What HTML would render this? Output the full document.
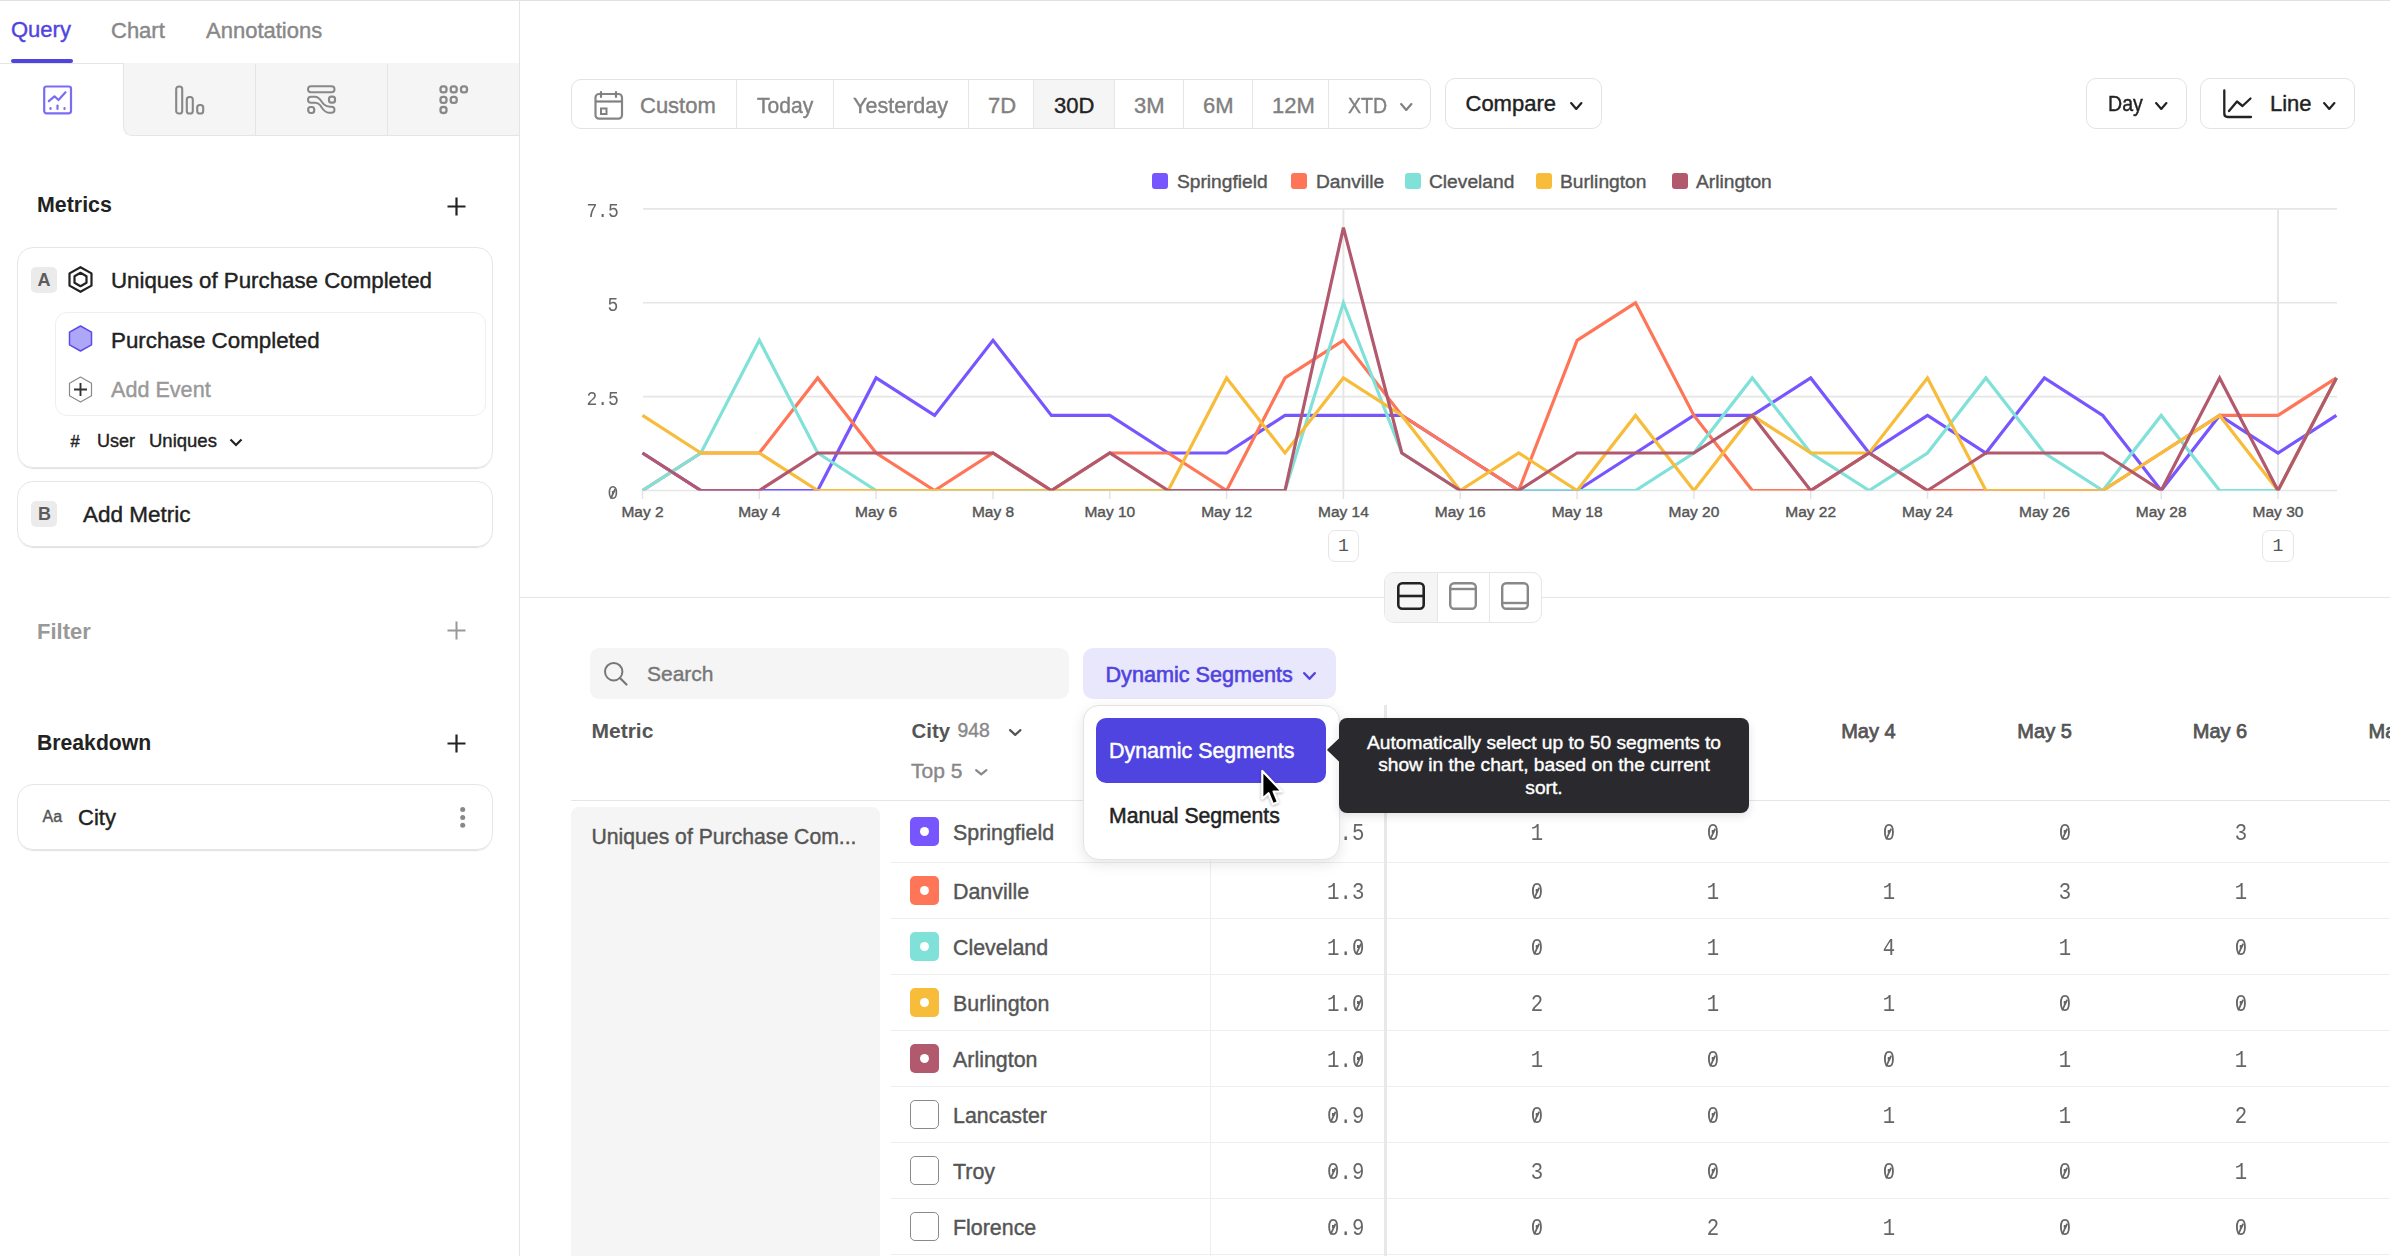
<!DOCTYPE html>
<html><head><meta charset="utf-8">
<style>
*{box-sizing:border-box;margin:0;padding:0}
html,body{width:2390px;height:1256px;overflow:hidden;background:#fff;font-family:"Liberation Sans",sans-serif;color:#222}
.a{position:absolute}
.t{position:absolute;line-height:1;white-space:nowrap;-webkit-text-stroke-width:0.4px}
.t[style*="bold"],.t[style*="Mono"]{-webkit-text-stroke-width:0}
.mono{font-family:"Liberation Mono",monospace}
svg{position:absolute;overflow:visible}
.z{position:relative;display:inline-block}
.z::after{content:"";position:absolute;left:10%;right:10%;top:50%;height:1.5px;margin-top:-0.75px;background:currentColor;transform:rotate(-62deg) scaleX(1.1)}
</style></head><body>
<!-- top border -->
<div class="a" style="left:0;top:0;width:2390px;height:1px;background:#e0e0e0"></div>
<!-- LEFT PANEL -->
<div class="a" style="left:519px;top:0;width:1px;height:1256px;background:#e5e5e5"></div>
<div class="t" style="left:11px;top:18.8px;font-size:22px;color:#4f44e0">Query</div>
<div class="t" style="left:111px;top:19.5px;font-size:22px;color:#888">Chart</div>
<div class="t" style="left:206px;top:19.5px;font-size:22px;color:#888">Annotations</div>
<div class="a" style="left:11px;top:59px;width:62px;height:4px;border-radius:2px;background:#4f44e0"></div>
<div class="a" style="left:0;top:63px;width:519px;height:1px;background:#e5e5e5"></div>
<!-- icon tabs -->
<div class="a" style="left:123px;top:63px;width:396px;height:73px;background:#f5f5f5;border-left:1px solid #e5e5e5;border-bottom:1px solid #e5e5e5;border-bottom-left-radius:9px"></div>
<div class="a" style="left:255px;top:64px;width:1px;height:71px;background:#e5e5e5"></div>
<div class="a" style="left:387px;top:64px;width:1px;height:71px;background:#e5e5e5"></div>

<!-- tab icons -->
<svg style="left:43px;top:85px" width="30" height="30" viewBox="0 0 30 30"><rect x="1.2" y="1.5" width="26.8" height="26.8" rx="2.2" fill="none" stroke="#7b6cf6" stroke-width="2.2"/><polyline points="5.8,16.2 11.5,11.3 15.5,15 22.5,7.3" fill="none" stroke="#7b6cf6" stroke-width="2.2" stroke-linecap="round" stroke-linejoin="round"/><line x1="7.5" y1="23" x2="7.5" y2="24" stroke="#7b6cf6" stroke-width="2.2" stroke-linecap="round"/><line x1="14.5" y1="20.5" x2="14.5" y2="24" stroke="#7b6cf6" stroke-width="2.2" stroke-linecap="round"/><line x1="21.5" y1="23" x2="21.5" y2="24" stroke="#7b6cf6" stroke-width="2.2" stroke-linecap="round"/></svg>
<svg style="left:175px;top:85px" width="30" height="30" viewBox="0 0 30 30"><rect x="1.2" y="1.5" width="6" height="27" rx="2.6" fill="none" stroke="#888" stroke-width="2.1"/><rect x="11.8" y="12" width="6" height="16.5" rx="2.6" fill="none" stroke="#888" stroke-width="2.1"/><rect x="22.2" y="20" width="6" height="8.5" rx="2.6" fill="none" stroke="#888" stroke-width="2.1"/></svg>
<svg style="left:307px;top:85px" width="30" height="30" viewBox="0 0 30 30"><rect x="1" y="1.2" width="26.5" height="6" rx="3" fill="none" stroke="#888" stroke-width="2"/><path d="M4,11.7 H8 C13,11.7 14,17 17,19.5 C18.5,20.8 20,21.7 23,21.7 H24.5 A3,3 0 0 1 24.5,27.7 H22 C17,27.7 15.5,23.5 13,20 C11.5,18 10,17.7 8,17.7 H4 A3,3 0 0 1 4,11.7 Z" fill="none" stroke="#888" stroke-width="2" stroke-linejoin="round"/><rect x="22" y="11.7" width="6" height="6" rx="2.4" fill="none" stroke="#888" stroke-width="2.2"/><rect x="1.2" y="22" width="6" height="6" rx="2.4" fill="none" stroke="#888" stroke-width="2.2"/></svg>
<svg style="left:439px;top:85px" width="30" height="30" viewBox="0 0 30 30"><g fill="none" stroke="#888" stroke-width="2.3"><rect x="1.5" y="1.2999999999999998" width="6" height="6" rx="2.4"/><rect x="11.7" y="1.2999999999999998" width="6" height="6" rx="2.4"/><rect x="22" y="1.2999999999999998" width="6" height="6" rx="2.4"/><rect x="1.5" y="11.8" width="6" height="6" rx="2.4"/><rect x="11.7" y="11.8" width="6" height="6" rx="2.4"/><rect x="1.5" y="22" width="6" height="6" rx="2.4"/></g></svg>

<!-- Metrics -->
<div class="t" style="left:37px;top:194.5px;font-size:21.4px;font-weight:bold;color:#222">Metrics</div>
<svg style="left:447px;top:197px" width="19" height="19" viewBox="0 0 19 19"><path d="M9.5,0.5V18.5M0.5,9.5H18.5" stroke="#222" stroke-width="2.2"/></svg>

<!-- Card A -->
<div class="a" style="left:17px;top:247px;width:476px;height:221px;border:1px solid #e6e6e6;border-radius:16px;box-shadow:0 2px 1px -1px #e0e0e0"></div>
<div class="a" style="left:31px;top:267px;width:26px;height:26px;border-radius:5px;background:#ebebeb"></div>
<div class="t" style="left:37.5px;top:270.5px;font-size:18px;font-weight:bold;color:#5c5c5c">A</div>
<svg style="left:68px;top:266px" width="26" height="27" viewBox="0 0 26 27"><path d="M12.5,1.2 L23.5,7.4 V19.6 L12.5,25.8 L1.5,19.6 V7.4 Z" fill="none" stroke="#222" stroke-width="2.2" stroke-linejoin="round"/><path d="M12.5,6.8 L18.5,10.2 V16.8 L12.5,20.2 L6.5,16.8 V10.2 Z" fill="none" stroke="#222" stroke-width="2.2" stroke-linejoin="round"/></svg>
<div class="t" style="left:111px;top:269.5px;font-size:22.3px;color:#222">Uniques of Purchase Completed</div>
<div class="a" style="left:55px;top:312px;width:431px;height:104px;border:1px solid #efefef;border-radius:12px"></div>
<svg style="left:68px;top:325px" width="26" height="27" viewBox="0 0 26 27"><path d="M12.5,1 L23.5,7.2 V19.8 L12.5,26 L1.5,19.8 V7.2 Z" fill="#aea7f7" stroke="#5a4ce8" stroke-width="1.5" stroke-linejoin="round"/></svg>
<div class="t" style="left:111px;top:329.5px;font-size:22.35px;color:#222">Purchase Completed</div>
<svg style="left:68px;top:376px" width="26" height="27" viewBox="0 0 26 27"><path d="M12.5,1 L23.5,7.2 V19.8 L12.5,26 L1.5,19.8 V7.2 Z" fill="none" stroke="#8a8a8a" stroke-width="1.2" stroke-linejoin="round"/><path d="M12.5,7V20M6,13.5H19" stroke="#333" stroke-width="1.9"/></svg>
<div class="t" style="left:111px;top:379.2px;font-size:21.6px;color:#999">Add Event</div>
<div class="t" style="left:70.5px;top:432.5px;font-size:16.5px;color:#222">#</div>
<div class="t" style="left:97px;top:432.3px;font-size:18px;color:#222">User</div>
<div class="t" style="left:149px;top:432.3px;font-size:18.5px;color:#222">Uniques</div>
<svg style="left:229px;top:438px" width="14" height="9" viewBox="0 0 14 9"><polyline points="1.5,1.5 7,7 12.5,1.5" fill="none" stroke="#222" stroke-width="2.2"/></svg>

<!-- Card B -->
<div class="a" style="left:17px;top:481px;width:476px;height:66px;border:1px solid #e6e6e6;border-radius:16px;box-shadow:0 2px 1px -1px #e0e0e0"></div>
<div class="a" style="left:31px;top:501px;width:26px;height:26px;border-radius:5px;background:#ebebeb"></div>
<div class="t" style="left:38px;top:504.5px;font-size:18px;font-weight:bold;color:#5c5c5c">B</div>
<div class="t" style="left:83px;top:503.5px;font-size:22.5px;color:#222">Add Metric</div>

<!-- Filter -->
<div class="t" style="left:37px;top:620.5px;font-size:22px;font-weight:bold;color:#999">Filter</div>
<svg style="left:447px;top:621px" width="19" height="19" viewBox="0 0 19 19"><path d="M9.5,0.5V18.5M0.5,9.5H18.5" stroke="#999" stroke-width="2"/></svg>

<!-- Breakdown -->
<div class="t" style="left:37px;top:732.3px;font-size:21.2px;font-weight:bold;color:#222">Breakdown</div>
<svg style="left:447px;top:734px" width="19" height="19" viewBox="0 0 19 19"><path d="M9.5,0.5V18.5M0.5,9.5H18.5" stroke="#222" stroke-width="2.2"/></svg>
<div class="a" style="left:17px;top:784px;width:476px;height:66px;border:1px solid #e6e6e6;border-radius:16px;box-shadow:0 2px 1px -1px #e0e0e0"></div>
<div class="t" style="left:42.5px;top:808.5px;font-size:16px;color:#555">Aa</div>
<div class="t" style="left:78px;top:807px;font-size:22px;color:#222">City</div>
<svg style="left:459px;top:806px" width="8" height="23" viewBox="0 0 8 23"><circle cx="3.7" cy="3.5" r="2.5" fill="#888"/><circle cx="3.7" cy="11.5" r="2.5" fill="#888"/><circle cx="3.7" cy="19.3" r="2.5" fill="#888"/></svg>
<!-- RIGHT -->
<div class="a" style="left:571px;top:79px;width:860px;height:50px;border:1px solid #e3e3e3;border-radius:10px"></div>
<div class="a" style="left:1033px;top:80px;width:81px;height:48px;background:#f5f5f5"></div>
<div class="a" style="left:736px;top:80px;width:1px;height:48px;background:#e6e6e6"></div>
<div class="a" style="left:833px;top:80px;width:1px;height:48px;background:#e6e6e6"></div>
<div class="a" style="left:968px;top:80px;width:1px;height:48px;background:#e6e6e6"></div>
<div class="a" style="left:1033px;top:80px;width:1px;height:48px;background:#e6e6e6"></div>
<div class="a" style="left:1114px;top:80px;width:1px;height:48px;background:#e6e6e6"></div>
<div class="a" style="left:1183px;top:80px;width:1px;height:48px;background:#e6e6e6"></div>
<div class="a" style="left:1252px;top:80px;width:1px;height:48px;background:#e6e6e6"></div>
<div class="a" style="left:1328px;top:80px;width:1px;height:48px;background:#e6e6e6"></div>
<svg style="left:594px;top:91px" width="30" height="30" viewBox="0 0 30 30"><rect x="1.5" y="3" width="26.5" height="24.7" rx="3.5" fill="none" stroke="#858589" stroke-width="2.2"/><line x1="1.5" y1="10.5" x2="28" y2="10.5" stroke="#808080" stroke-width="2.2"/><line x1="7" y1="1" x2="7" y2="6" stroke="#808080" stroke-width="2.2" stroke-linecap="round"/><line x1="22" y1="1" x2="22" y2="6" stroke="#808080" stroke-width="2.2" stroke-linecap="round"/><rect x="7" y="17.5" width="5.5" height="5.5" fill="none" stroke="#808080" stroke-width="2"/></svg>
<div class="t" style="left:640px;top:95.14px;font-size:22px;color:#808080;font-weight:normal;">Custom</div>
<div class="t" style="left:757px;top:95.14px;font-size:22px;color:#808080;font-weight:normal;transform:scaleX(0.958);transform-origin:left center;">Today</div>
<div class="t" style="left:853px;top:95.14px;font-size:22px;color:#808080;font-weight:normal;transform:scaleX(0.98);transform-origin:left center;">Yesterday</div>
<div class="t" style="left:988px;top:95.14px;font-size:22px;color:#808080;font-weight:normal;">7D</div>
<div class="t" style="left:1054px;top:95.14px;font-size:22px;color:#222;font-weight:normal;">30D</div>
<div class="t" style="left:1134px;top:95.14px;font-size:22px;color:#808080;font-weight:normal;">3M</div>
<div class="t" style="left:1203px;top:95.14px;font-size:22px;color:#808080;font-weight:normal;">6M</div>
<div class="t" style="left:1272px;top:95.14px;font-size:22px;color:#808080;font-weight:normal;">12M</div>
<div class="t" style="left:1348px;top:95.14px;font-size:22px;color:#808080;font-weight:normal;transform:scaleX(0.89);transform-origin:left center;">XTD</div>
<svg style="left:1399.5px;top:103px" width="12.5" height="8" viewBox="0 0 12.5 8"><polyline points="1.1,1.1 6.25,6.9 11.4,1.1" fill="none" stroke="#808080" stroke-width="2.2" stroke-linecap="round" stroke-linejoin="round"/></svg>
<div class="a" style="left:1445px;top:78px;width:157px;height:50.5px;border:1px solid #e3e3e3;border-radius:10px"></div>
<div class="t" style="left:1465.5px;top:93.04px;font-size:22px;color:#222;font-weight:normal;">Compare</div>
<svg style="left:1569.5px;top:101.5px" width="12.5" height="8.0" viewBox="0 0 12.5 8.0"><polyline points="1.1,1.1 6.25,6.9 11.4,1.1" fill="none" stroke="#222" stroke-width="2.2" stroke-linecap="round" stroke-linejoin="round"/></svg>
<div class="a" style="left:2086px;top:78px;width:101px;height:50.5px;border:1px solid #e3e3e3;border-radius:10px"></div>
<div class="t" style="left:2107.5px;top:93.14px;font-size:22px;color:#222;font-weight:normal;transform:scaleX(0.89);transform-origin:left center;">Day</div>
<svg style="left:2154.5px;top:101.5px" width="12.5" height="8.0" viewBox="0 0 12.5 8.0"><polyline points="1.1,1.1 6.25,6.9 11.4,1.1" fill="none" stroke="#222" stroke-width="2.2" stroke-linecap="round" stroke-linejoin="round"/></svg>
<div class="a" style="left:2200px;top:78px;width:155px;height:50.5px;border:1px solid #e3e3e3;border-radius:10px"></div>
<svg style="left:2222px;top:89px" width="32" height="30" viewBox="0 0 32 30"><path d="M2.3,1.5 V24.5 Q2.3,28 5.8,28 H29" fill="none" stroke="#222" stroke-width="2.3" stroke-linecap="round"/><polyline points="7,22 15,12.5 20.5,17 28.5,9.5" fill="none" stroke="#222" stroke-width="2.3" stroke-linecap="round" stroke-linejoin="round"/></svg>
<div class="t" style="left:2270px;top:93.44px;font-size:22px;color:#222;font-weight:normal;">Line</div>
<svg style="left:2322.5px;top:101.5px" width="12.5" height="8.0" viewBox="0 0 12.5 8.0"><polyline points="1.1,1.1 6.25,6.9 11.4,1.1" fill="none" stroke="#222" stroke-width="2.2" stroke-linecap="round" stroke-linejoin="round"/></svg>
<div class="a" style="left:1152px;top:173px;width:16px;height:16px;background:#7856ff;border-radius:3px"></div>
<div class="t" style="left:1177px;top:171.7px;font-size:19.2px;color:#555;font-weight:normal;">Springfield</div>
<div class="a" style="left:1291px;top:173px;width:16px;height:16px;background:#ff7557;border-radius:3px"></div>
<div class="t" style="left:1316px;top:171.7px;font-size:19.2px;color:#555;font-weight:normal;">Danville</div>
<div class="a" style="left:1405px;top:173px;width:16px;height:16px;background:#80e1d9;border-radius:3px"></div>
<div class="t" style="left:1429px;top:171.7px;font-size:19.2px;color:#555;font-weight:normal;">Cleveland</div>
<div class="a" style="left:1536px;top:173px;width:16px;height:16px;background:#f8bc3b;border-radius:3px"></div>
<div class="t" style="left:1560px;top:171.7px;font-size:19.2px;color:#555;font-weight:normal;">Burlington</div>
<div class="a" style="left:1672px;top:173px;width:16px;height:16px;background:#b2596e;border-radius:3px"></div>
<div class="t" style="left:1696px;top:171.7px;font-size:19.2px;color:#555;font-weight:normal;">Arlington</div>
<svg style="left:0;top:0" width="2390" height="600" viewBox="0 0 2390 600"><defs><clipPath id="pc"><rect x="600" y="150" width="1760" height="340.5"/></clipPath></defs><line x1="643" y1="490.5" x2="2337" y2="490.5" stroke="#e6e6e6" stroke-width="1.6"/><line x1="643" y1="396.6" x2="2337" y2="396.6" stroke="#e6e6e6" stroke-width="1.6"/><line x1="643" y1="302.8" x2="2337" y2="302.8" stroke="#e6e6e6" stroke-width="1.6"/><line x1="643" y1="208.9" x2="2337" y2="208.9" stroke="#e6e6e6" stroke-width="1.6"/></svg>
<div class="t" style="right:1771.5px;top:483.74px;font-size:20.5px;color:#666;font-weight:normal;font-family:'Liberation Mono',monospace;transform:scaleX(0.88);transform-origin:right center;"><span class="z">0</span></div>
<div class="t" style="right:1771.5px;top:389.87px;font-size:20.5px;color:#666;font-weight:normal;font-family:'Liberation Mono',monospace;transform:scaleX(0.88);transform-origin:right center;">2.5</div>
<div class="t" style="right:1771.5px;top:296.0px;font-size:20.5px;color:#666;font-weight:normal;font-family:'Liberation Mono',monospace;transform:scaleX(0.88);transform-origin:right center;">5</div>
<div class="t" style="right:1771.5px;top:202.13px;font-size:20.5px;color:#666;font-weight:normal;font-family:'Liberation Mono',monospace;transform:scaleX(0.88);transform-origin:right center;">7.5</div>
<svg style="left:0;top:0" width="2390" height="600" viewBox="0 0 2390 600"><line x1="642.5" y1="491" x2="642.5" y2="499" stroke="#e3e3e3" stroke-width="1.5"/><line x1="759.3" y1="491" x2="759.3" y2="499" stroke="#e3e3e3" stroke-width="1.5"/><line x1="876.1" y1="491" x2="876.1" y2="499" stroke="#e3e3e3" stroke-width="1.5"/><line x1="993.0" y1="491" x2="993.0" y2="499" stroke="#e3e3e3" stroke-width="1.5"/><line x1="1109.8" y1="491" x2="1109.8" y2="499" stroke="#e3e3e3" stroke-width="1.5"/><line x1="1226.6" y1="491" x2="1226.6" y2="499" stroke="#e3e3e3" stroke-width="1.5"/><line x1="1343.4" y1="491" x2="1343.4" y2="499" stroke="#e3e3e3" stroke-width="1.5"/><line x1="1460.2" y1="491" x2="1460.2" y2="499" stroke="#e3e3e3" stroke-width="1.5"/><line x1="1577.1" y1="491" x2="1577.1" y2="499" stroke="#e3e3e3" stroke-width="1.5"/><line x1="1693.9" y1="491" x2="1693.9" y2="499" stroke="#e3e3e3" stroke-width="1.5"/><line x1="1810.7" y1="491" x2="1810.7" y2="499" stroke="#e3e3e3" stroke-width="1.5"/><line x1="1927.5" y1="491" x2="1927.5" y2="499" stroke="#e3e3e3" stroke-width="1.5"/><line x1="2044.4" y1="491" x2="2044.4" y2="499" stroke="#e3e3e3" stroke-width="1.5"/><line x1="2161.2" y1="491" x2="2161.2" y2="499" stroke="#e3e3e3" stroke-width="1.5"/><line x1="2278.0" y1="491" x2="2278.0" y2="499" stroke="#e3e3e3" stroke-width="1.5"/><line x1="1343.4" y1="209" x2="1343.4" y2="490" stroke="#e6e6e6" stroke-width="2"/><line x1="2278.0" y1="209" x2="2278.0" y2="490" stroke="#e6e6e6" stroke-width="2"/><g clip-path="url(#pc)" fill="none" stroke-width="3.2" stroke-linejoin="miter" stroke-miterlimit="4"><polyline points="642.5,453.0 700.9,490.5 759.3,490.5 817.7,490.5 876.1,377.9 934.6,415.4 993.0,340.3 1051.4,415.4 1109.8,415.4 1168.2,453.0 1226.6,453.0 1285.0,415.4 1343.4,415.4 1401.8,415.4 1460.2,453.0 1518.7,490.5 1577.1,490.5 1635.5,453.0 1693.9,415.4 1752.3,415.4 1810.7,377.9 1869.1,453.0 1927.5,415.4 1985.9,453.0 2044.4,377.9 2102.8,415.4 2161.2,490.5 2219.6,415.4 2278.0,453.0 2336.4,415.4" stroke="#7856ff"/><polyline points="642.5,490.5 700.9,453.0 759.3,453.0 817.7,377.9 876.1,453.0 934.6,490.5 993.0,453.0 1051.4,490.5 1109.8,453.0 1168.2,453.0 1226.6,490.5 1285.0,377.9 1343.4,340.3 1401.8,415.4 1460.2,453.0 1518.7,490.5 1577.1,340.3 1635.5,302.8 1693.9,415.4 1752.3,490.5 1810.7,490.5 1869.1,453.0 1927.5,490.5 1985.9,490.5 2044.4,490.5 2102.8,490.5 2161.2,453.0 2219.6,415.4 2278.0,415.4 2336.4,377.9" stroke="#ff7557"/><polyline points="642.5,490.5 700.9,453.0 759.3,340.3 817.7,453.0 876.1,490.5 934.6,490.5 993.0,490.5 1051.4,490.5 1109.8,490.5 1168.2,490.5 1226.6,490.5 1285.0,490.5 1343.4,302.8 1401.8,453.0 1460.2,490.5 1518.7,490.5 1577.1,490.5 1635.5,490.5 1693.9,453.0 1752.3,377.9 1810.7,453.0 1869.1,490.5 1927.5,453.0 1985.9,377.9 2044.4,453.0 2102.8,490.5 2161.2,415.4 2219.6,490.5 2278.0,490.5 2336.4,377.9" stroke="#80e1d9"/><polyline points="642.5,415.4 700.9,453.0 759.3,453.0 817.7,490.5 876.1,490.5 934.6,490.5 993.0,490.5 1051.4,490.5 1109.8,490.5 1168.2,490.5 1226.6,377.9 1285.0,453.0 1343.4,377.9 1401.8,415.4 1460.2,490.5 1518.7,453.0 1577.1,490.5 1635.5,415.4 1693.9,490.5 1752.3,415.4 1810.7,453.0 1869.1,453.0 1927.5,377.9 1985.9,490.5 2044.4,490.5 2102.8,490.5 2161.2,453.0 2219.6,415.4 2278.0,490.5 2336.4,377.9" stroke="#f8bc3b"/><polyline points="642.5,453.0 700.9,490.5 759.3,490.5 817.7,453.0 876.1,453.0 934.6,453.0 993.0,453.0 1051.4,490.5 1109.8,453.0 1168.2,490.5 1226.6,490.5 1285.0,490.5 1343.4,227.7 1401.8,453.0 1460.2,490.5 1518.7,490.5 1577.1,453.0 1635.5,453.0 1693.9,453.0 1752.3,415.4 1810.7,490.5 1869.1,453.0 1927.5,490.5 1985.9,453.0 2044.4,453.0 2102.8,453.0 2161.2,490.5 2219.6,377.9 2278.0,490.5 2336.4,377.9" stroke="#b2596e"/></g></svg>
<div class="t" style="left:642.5px;transform:translateX(-50%);top:503.89px;font-size:15.5px;color:#555;font-weight:normal;">May 2</div>
<div class="t" style="left:759.3px;transform:translateX(-50%);top:503.89px;font-size:15.5px;color:#555;font-weight:normal;">May 4</div>
<div class="t" style="left:876.1px;transform:translateX(-50%);top:503.89px;font-size:15.5px;color:#555;font-weight:normal;">May 6</div>
<div class="t" style="left:993.0px;transform:translateX(-50%);top:503.89px;font-size:15.5px;color:#555;font-weight:normal;">May 8</div>
<div class="t" style="left:1109.8px;transform:translateX(-50%);top:503.89px;font-size:15.5px;color:#555;font-weight:normal;">May 10</div>
<div class="t" style="left:1226.6px;transform:translateX(-50%);top:503.89px;font-size:15.5px;color:#555;font-weight:normal;">May 12</div>
<div class="t" style="left:1343.4px;transform:translateX(-50%);top:503.89px;font-size:15.5px;color:#555;font-weight:normal;">May 14</div>
<div class="t" style="left:1460.2px;transform:translateX(-50%);top:503.89px;font-size:15.5px;color:#555;font-weight:normal;">May 16</div>
<div class="t" style="left:1577.1px;transform:translateX(-50%);top:503.89px;font-size:15.5px;color:#555;font-weight:normal;">May 18</div>
<div class="t" style="left:1693.9px;transform:translateX(-50%);top:503.89px;font-size:15.5px;color:#555;font-weight:normal;">May 20</div>
<div class="t" style="left:1810.7px;transform:translateX(-50%);top:503.89px;font-size:15.5px;color:#555;font-weight:normal;">May 22</div>
<div class="t" style="left:1927.5px;transform:translateX(-50%);top:503.89px;font-size:15.5px;color:#555;font-weight:normal;">May 24</div>
<div class="t" style="left:2044.4px;transform:translateX(-50%);top:503.89px;font-size:15.5px;color:#555;font-weight:normal;">May 26</div>
<div class="t" style="left:2161.2px;transform:translateX(-50%);top:503.89px;font-size:15.5px;color:#555;font-weight:normal;">May 28</div>
<div class="t" style="left:2278.0px;transform:translateX(-50%);top:503.89px;font-size:15.5px;color:#555;font-weight:normal;">May 30</div>
<div class="a" style="left:1327.6px;top:530px;width:31.6px;height:32px;border:1px solid #e6e6e6;border-radius:7px"></div>
<div class="t" style="left:1343.4px;transform:translateX(-50%);top:536.66px;font-size:18px;color:#555;font-weight:normal;font-family:'Liberation Mono',monospace;">1</div>
<div class="a" style="left:2262.2px;top:530px;width:31.6px;height:32px;border:1px solid #e6e6e6;border-radius:7px"></div>
<div class="t" style="left:2278.0px;transform:translateX(-50%);top:536.66px;font-size:18px;color:#555;font-weight:normal;font-family:'Liberation Mono',monospace;">1</div>
<div class="a" style="left:520px;top:596.5px;width:1870px;height:1.5px;background:#e6e6e6"></div>
<div class="a" style="left:1384px;top:571.5px;width:158px;height:51.0px;background:#fff;border:1px solid #e6e6e6;border-radius:10px"></div>
<div class="a" style="left:1385px;top:572.5px;width:52px;height:49.0px;background:#f5f5f5;border-radius:9px 0 0 9px"></div>
<div class="a" style="left:1436.5px;top:572.5px;width:1.0px;height:49.0px;background:#e6e6e6"></div>
<div class="a" style="left:1488.5px;top:572.5px;width:1.0px;height:49.0px;background:#e6e6e6"></div>
<svg style="left:1397px;top:582px" width="28" height="28" viewBox="0 0 28 28"><rect x="1.3" y="1.3" width="25.4" height="25.4" rx="4" fill="none" stroke="#222" stroke-width="2.6"/><line x1="1.3" y1="14" x2="26.7" y2="14" stroke="#222" stroke-width="2.6"/></svg>
<svg style="left:1449px;top:582px" width="28" height="28" viewBox="0 0 28 28"><rect x="1.2" y="1.2" width="25.6" height="25.6" rx="4" fill="none" stroke="#888" stroke-width="2.4"/><line x1="1.2" y1="7" x2="26.8" y2="7" stroke="#888" stroke-width="2.4"/></svg>
<svg style="left:1501px;top:582px" width="28" height="28" viewBox="0 0 28 28"><rect x="1.2" y="1.2" width="25.6" height="25.6" rx="4" fill="none" stroke="#888" stroke-width="2.4"/><line x1="1.2" y1="21" x2="26.8" y2="21" stroke="#888" stroke-width="2.4"/></svg>
<div class="a" style="left:590px;top:648px;width:479px;height:50.5px;background:#f5f5f5;border-radius:9px"></div>
<svg style="left:603px;top:661px" width="26" height="26" viewBox="0 0 26 26"><circle cx="10.7" cy="10.7" r="8.7" fill="none" stroke="#777" stroke-width="2"/><line x1="17" y1="17" x2="23.5" y2="23.5" stroke="#777" stroke-width="2.2" stroke-linecap="round"/></svg>
<div class="t" style="left:647px;top:663.27px;font-size:21px;color:#777;font-weight:normal;">Search</div>
<div class="a" style="left:1083px;top:648px;width:253px;height:50.5px;background:#e9e7fb;border-radius:10px"></div>
<div class="t" style="left:1105.5px;top:663.99px;font-size:21.6px;color:#4f44e0;font-weight:normal;-webkit-text-stroke-width:0.6px">Dynamic Segments</div>
<svg style="left:1303px;top:671.5px" width="13" height="8.0" viewBox="0 0 13 8.0"><polyline points="1.25,1.25 6.5,6.75 11.75,1.25" fill="none" stroke="#4f44e0" stroke-width="2.5" stroke-linecap="round" stroke-linejoin="round"/></svg>
<div class="t" style="left:591.5px;top:720.27px;font-size:21px;color:#555;font-weight:bold;">Metric</div>
<div class="t" style="left:911.5px;top:720.55px;font-size:20.4px;color:#555;font-weight:bold;">City</div>
<div class="t" style="left:957.5px;top:720.68px;font-size:19.4px;color:#888;font-weight:normal;">948</div>
<svg style="left:1008.5px;top:728.5px" width="12.5" height="7.0" viewBox="0 0 12.5 7.0"><polyline points="1.1,1.1 6.25,5.9 11.4,1.1" fill="none" stroke="#555" stroke-width="2.2" stroke-linecap="round" stroke-linejoin="round"/></svg>
<div class="t" style="left:911px;top:760.27px;font-size:21px;color:#888;font-weight:normal;">Top 5</div>
<svg style="left:974.5px;top:769px" width="12.5" height="6.5" viewBox="0 0 12.5 6.5"><polyline points="1.1,1.1 6.25,5.4 11.4,1.1" fill="none" stroke="#888" stroke-width="2.2" stroke-linecap="round" stroke-linejoin="round"/></svg>
<div class="t" style="right:846.4000000000001px;top:721.2px;font-size:20px;color:#555;font-weight:normal;-webkit-text-stroke:0.75px #555">May 2</div>
<div class="t" style="right:670.4000000000001px;top:721.2px;font-size:20px;color:#555;font-weight:normal;-webkit-text-stroke:0.75px #555">May 3</div>
<div class="t" style="right:494.4000000000001px;top:721.2px;font-size:20px;color:#555;font-weight:normal;-webkit-text-stroke:0.75px #555">May 4</div>
<div class="t" style="right:318.1999999999998px;top:721.2px;font-size:20px;color:#555;font-weight:normal;-webkit-text-stroke:0.75px #555">May 5</div>
<div class="t" style="right:142.80000000000018px;top:721.2px;font-size:20px;color:#555;font-weight:normal;-webkit-text-stroke:0.75px #555">May 6</div>
<div class="t" style="right:-33px;top:721.2px;font-size:20px;color:#555;font-weight:normal;-webkit-text-stroke:0.75px #555">May 7</div>
<div class="a" style="left:571px;top:800px;width:1819px;height:1px;background:#e6e6e6"></div>
<div class="a" style="left:571px;top:807px;width:309px;height:449px;background:#f5f5f5;border-radius:8px 8px 0 0"></div>
<div class="t" style="left:591.5px;top:825.84px;font-size:21.2px;color:#555;font-weight:normal;">Uniques of Purchase Com...</div>
<div class="a" style="left:891px;top:862px;width:1499px;height:1px;background:#eeeeee"></div>
<div class="a" style="left:891px;top:918px;width:1499px;height:1px;background:#eeeeee"></div>
<div class="a" style="left:891px;top:974px;width:1499px;height:1px;background:#eeeeee"></div>
<div class="a" style="left:891px;top:1030px;width:1499px;height:1px;background:#eeeeee"></div>
<div class="a" style="left:891px;top:1086px;width:1499px;height:1px;background:#eeeeee"></div>
<div class="a" style="left:891px;top:1142px;width:1499px;height:1px;background:#eeeeee"></div>
<div class="a" style="left:891px;top:1198px;width:1499px;height:1px;background:#eeeeee"></div>
<div class="a" style="left:891px;top:1254px;width:1499px;height:1px;background:#eeeeee"></div>
<div class="a" style="left:1210px;top:801px;width:1px;height:455px;background:#eeeeee"></div>
<div class="a" style="left:1384px;top:705px;width:3px;height:551px;background:#e8e8e8"></div>
<div class="a" style="left:910px;top:817.0px;width:29px;height:29.0px;background:#7856ff;border-radius:5px"></div>
<div class="a" style="left:919.6px;top:826.7px;width:9.6px;height:9.6px;background:#fff;border-radius:50%"></div>
<div class="t" style="left:953px;top:823.22px;font-size:21.4px;color:#555;font-weight:normal;">Springfield</div>
<div class="t" style="right:1026px;top:822.04px;font-size:23.5px;color:#666;font-weight:normal;font-family:'Liberation Mono',monospace;transform:scaleX(0.88);transform-origin:right center;">1.5</div>
<div class="t" style="right:846.5px;top:822.04px;font-size:23.5px;color:#666;font-weight:normal;font-family:'Liberation Mono',monospace;transform:scaleX(0.88);transform-origin:right center;">1</div>
<div class="t" style="right:670.5px;top:822.04px;font-size:23.5px;color:#666;font-weight:normal;font-family:'Liberation Mono',monospace;transform:scaleX(0.88);transform-origin:right center;"><span class="z">0</span></div>
<div class="t" style="right:494.5px;top:822.04px;font-size:23.5px;color:#666;font-weight:normal;font-family:'Liberation Mono',monospace;transform:scaleX(0.88);transform-origin:right center;"><span class="z">0</span></div>
<div class="t" style="right:318.5px;top:822.04px;font-size:23.5px;color:#666;font-weight:normal;font-family:'Liberation Mono',monospace;transform:scaleX(0.88);transform-origin:right center;"><span class="z">0</span></div>
<div class="t" style="right:142.5px;top:822.04px;font-size:23.5px;color:#666;font-weight:normal;font-family:'Liberation Mono',monospace;transform:scaleX(0.88);transform-origin:right center;">3</div>
<div class="a" style="left:910px;top:876.0px;width:29px;height:29.0px;background:#ff7557;border-radius:5px"></div>
<div class="a" style="left:919.6px;top:885.7px;width:9.6px;height:9.6px;background:#fff;border-radius:50%"></div>
<div class="t" style="left:953px;top:882.22px;font-size:21.4px;color:#555;font-weight:normal;">Danville</div>
<div class="t" style="right:1026px;top:881.04px;font-size:23.5px;color:#666;font-weight:normal;font-family:'Liberation Mono',monospace;transform:scaleX(0.88);transform-origin:right center;">1.3</div>
<div class="t" style="right:846.5px;top:881.04px;font-size:23.5px;color:#666;font-weight:normal;font-family:'Liberation Mono',monospace;transform:scaleX(0.88);transform-origin:right center;"><span class="z">0</span></div>
<div class="t" style="right:670.5px;top:881.04px;font-size:23.5px;color:#666;font-weight:normal;font-family:'Liberation Mono',monospace;transform:scaleX(0.88);transform-origin:right center;">1</div>
<div class="t" style="right:494.5px;top:881.04px;font-size:23.5px;color:#666;font-weight:normal;font-family:'Liberation Mono',monospace;transform:scaleX(0.88);transform-origin:right center;">1</div>
<div class="t" style="right:318.5px;top:881.04px;font-size:23.5px;color:#666;font-weight:normal;font-family:'Liberation Mono',monospace;transform:scaleX(0.88);transform-origin:right center;">3</div>
<div class="t" style="right:142.5px;top:881.04px;font-size:23.5px;color:#666;font-weight:normal;font-family:'Liberation Mono',monospace;transform:scaleX(0.88);transform-origin:right center;">1</div>
<div class="a" style="left:910px;top:932.0px;width:29px;height:29.0px;background:#80e1d9;border-radius:5px"></div>
<div class="a" style="left:919.6px;top:941.7px;width:9.6px;height:9.6px;background:#fff;border-radius:50%"></div>
<div class="t" style="left:953px;top:938.22px;font-size:21.4px;color:#555;font-weight:normal;">Cleveland</div>
<div class="t" style="right:1026px;top:937.04px;font-size:23.5px;color:#666;font-weight:normal;font-family:'Liberation Mono',monospace;transform:scaleX(0.88);transform-origin:right center;">1.<span class="z">0</span></div>
<div class="t" style="right:846.5px;top:937.04px;font-size:23.5px;color:#666;font-weight:normal;font-family:'Liberation Mono',monospace;transform:scaleX(0.88);transform-origin:right center;"><span class="z">0</span></div>
<div class="t" style="right:670.5px;top:937.04px;font-size:23.5px;color:#666;font-weight:normal;font-family:'Liberation Mono',monospace;transform:scaleX(0.88);transform-origin:right center;">1</div>
<div class="t" style="right:494.5px;top:937.04px;font-size:23.5px;color:#666;font-weight:normal;font-family:'Liberation Mono',monospace;transform:scaleX(0.88);transform-origin:right center;">4</div>
<div class="t" style="right:318.5px;top:937.04px;font-size:23.5px;color:#666;font-weight:normal;font-family:'Liberation Mono',monospace;transform:scaleX(0.88);transform-origin:right center;">1</div>
<div class="t" style="right:142.5px;top:937.04px;font-size:23.5px;color:#666;font-weight:normal;font-family:'Liberation Mono',monospace;transform:scaleX(0.88);transform-origin:right center;"><span class="z">0</span></div>
<div class="a" style="left:910px;top:988.0px;width:29px;height:29.0px;background:#f8bc3b;border-radius:5px"></div>
<div class="a" style="left:919.6px;top:997.7px;width:9.6px;height:9.6px;background:#fff;border-radius:50%"></div>
<div class="t" style="left:953px;top:994.22px;font-size:21.4px;color:#555;font-weight:normal;">Burlington</div>
<div class="t" style="right:1026px;top:993.04px;font-size:23.5px;color:#666;font-weight:normal;font-family:'Liberation Mono',monospace;transform:scaleX(0.88);transform-origin:right center;">1.<span class="z">0</span></div>
<div class="t" style="right:846.5px;top:993.04px;font-size:23.5px;color:#666;font-weight:normal;font-family:'Liberation Mono',monospace;transform:scaleX(0.88);transform-origin:right center;">2</div>
<div class="t" style="right:670.5px;top:993.04px;font-size:23.5px;color:#666;font-weight:normal;font-family:'Liberation Mono',monospace;transform:scaleX(0.88);transform-origin:right center;">1</div>
<div class="t" style="right:494.5px;top:993.04px;font-size:23.5px;color:#666;font-weight:normal;font-family:'Liberation Mono',monospace;transform:scaleX(0.88);transform-origin:right center;">1</div>
<div class="t" style="right:318.5px;top:993.04px;font-size:23.5px;color:#666;font-weight:normal;font-family:'Liberation Mono',monospace;transform:scaleX(0.88);transform-origin:right center;"><span class="z">0</span></div>
<div class="t" style="right:142.5px;top:993.04px;font-size:23.5px;color:#666;font-weight:normal;font-family:'Liberation Mono',monospace;transform:scaleX(0.88);transform-origin:right center;"><span class="z">0</span></div>
<div class="a" style="left:910px;top:1044.0px;width:29px;height:29.0px;background:#b2596e;border-radius:5px"></div>
<div class="a" style="left:919.6px;top:1053.7px;width:9.6px;height:9.6px;background:#fff;border-radius:50%"></div>
<div class="t" style="left:953px;top:1050.22px;font-size:21.4px;color:#555;font-weight:normal;">Arlington</div>
<div class="t" style="right:1026px;top:1049.04px;font-size:23.5px;color:#666;font-weight:normal;font-family:'Liberation Mono',monospace;transform:scaleX(0.88);transform-origin:right center;">1.<span class="z">0</span></div>
<div class="t" style="right:846.5px;top:1049.04px;font-size:23.5px;color:#666;font-weight:normal;font-family:'Liberation Mono',monospace;transform:scaleX(0.88);transform-origin:right center;">1</div>
<div class="t" style="right:670.5px;top:1049.04px;font-size:23.5px;color:#666;font-weight:normal;font-family:'Liberation Mono',monospace;transform:scaleX(0.88);transform-origin:right center;"><span class="z">0</span></div>
<div class="t" style="right:494.5px;top:1049.04px;font-size:23.5px;color:#666;font-weight:normal;font-family:'Liberation Mono',monospace;transform:scaleX(0.88);transform-origin:right center;"><span class="z">0</span></div>
<div class="t" style="right:318.5px;top:1049.04px;font-size:23.5px;color:#666;font-weight:normal;font-family:'Liberation Mono',monospace;transform:scaleX(0.88);transform-origin:right center;">1</div>
<div class="t" style="right:142.5px;top:1049.04px;font-size:23.5px;color:#666;font-weight:normal;font-family:'Liberation Mono',monospace;transform:scaleX(0.88);transform-origin:right center;">1</div>
<div class="a" style="left:910px;top:1100.0px;width:29px;height:29.0px;background:#fff;border:1.5px solid #8a8a8a;border-radius:5px"></div>
<div class="t" style="left:953px;top:1106.22px;font-size:21.4px;color:#555;font-weight:normal;">Lancaster</div>
<div class="t" style="right:1026px;top:1105.04px;font-size:23.5px;color:#666;font-weight:normal;font-family:'Liberation Mono',monospace;transform:scaleX(0.88);transform-origin:right center;"><span class="z">0</span>.9</div>
<div class="t" style="right:846.5px;top:1105.04px;font-size:23.5px;color:#666;font-weight:normal;font-family:'Liberation Mono',monospace;transform:scaleX(0.88);transform-origin:right center;"><span class="z">0</span></div>
<div class="t" style="right:670.5px;top:1105.04px;font-size:23.5px;color:#666;font-weight:normal;font-family:'Liberation Mono',monospace;transform:scaleX(0.88);transform-origin:right center;"><span class="z">0</span></div>
<div class="t" style="right:494.5px;top:1105.04px;font-size:23.5px;color:#666;font-weight:normal;font-family:'Liberation Mono',monospace;transform:scaleX(0.88);transform-origin:right center;">1</div>
<div class="t" style="right:318.5px;top:1105.04px;font-size:23.5px;color:#666;font-weight:normal;font-family:'Liberation Mono',monospace;transform:scaleX(0.88);transform-origin:right center;">1</div>
<div class="t" style="right:142.5px;top:1105.04px;font-size:23.5px;color:#666;font-weight:normal;font-family:'Liberation Mono',monospace;transform:scaleX(0.88);transform-origin:right center;">2</div>
<div class="a" style="left:910px;top:1156.0px;width:29px;height:29.0px;background:#fff;border:1.5px solid #8a8a8a;border-radius:5px"></div>
<div class="t" style="left:953px;top:1162.22px;font-size:21.4px;color:#555;font-weight:normal;">Troy</div>
<div class="t" style="right:1026px;top:1161.04px;font-size:23.5px;color:#666;font-weight:normal;font-family:'Liberation Mono',monospace;transform:scaleX(0.88);transform-origin:right center;"><span class="z">0</span>.9</div>
<div class="t" style="right:846.5px;top:1161.04px;font-size:23.5px;color:#666;font-weight:normal;font-family:'Liberation Mono',monospace;transform:scaleX(0.88);transform-origin:right center;">3</div>
<div class="t" style="right:670.5px;top:1161.04px;font-size:23.5px;color:#666;font-weight:normal;font-family:'Liberation Mono',monospace;transform:scaleX(0.88);transform-origin:right center;"><span class="z">0</span></div>
<div class="t" style="right:494.5px;top:1161.04px;font-size:23.5px;color:#666;font-weight:normal;font-family:'Liberation Mono',monospace;transform:scaleX(0.88);transform-origin:right center;"><span class="z">0</span></div>
<div class="t" style="right:318.5px;top:1161.04px;font-size:23.5px;color:#666;font-weight:normal;font-family:'Liberation Mono',monospace;transform:scaleX(0.88);transform-origin:right center;"><span class="z">0</span></div>
<div class="t" style="right:142.5px;top:1161.04px;font-size:23.5px;color:#666;font-weight:normal;font-family:'Liberation Mono',monospace;transform:scaleX(0.88);transform-origin:right center;">1</div>
<div class="a" style="left:910px;top:1212.0px;width:29px;height:29.0px;background:#fff;border:1.5px solid #8a8a8a;border-radius:5px"></div>
<div class="t" style="left:953px;top:1218.22px;font-size:21.4px;color:#555;font-weight:normal;">Florence</div>
<div class="t" style="right:1026px;top:1217.04px;font-size:23.5px;color:#666;font-weight:normal;font-family:'Liberation Mono',monospace;transform:scaleX(0.88);transform-origin:right center;"><span class="z">0</span>.9</div>
<div class="t" style="right:846.5px;top:1217.04px;font-size:23.5px;color:#666;font-weight:normal;font-family:'Liberation Mono',monospace;transform:scaleX(0.88);transform-origin:right center;"><span class="z">0</span></div>
<div class="t" style="right:670.5px;top:1217.04px;font-size:23.5px;color:#666;font-weight:normal;font-family:'Liberation Mono',monospace;transform:scaleX(0.88);transform-origin:right center;">2</div>
<div class="t" style="right:494.5px;top:1217.04px;font-size:23.5px;color:#666;font-weight:normal;font-family:'Liberation Mono',monospace;transform:scaleX(0.88);transform-origin:right center;">1</div>
<div class="t" style="right:318.5px;top:1217.04px;font-size:23.5px;color:#666;font-weight:normal;font-family:'Liberation Mono',monospace;transform:scaleX(0.88);transform-origin:right center;"><span class="z">0</span></div>
<div class="t" style="right:142.5px;top:1217.04px;font-size:23.5px;color:#666;font-weight:normal;font-family:'Liberation Mono',monospace;transform:scaleX(0.88);transform-origin:right center;"><span class="z">0</span></div>
<div class="a" style="left:1082.5px;top:704.5px;width:257.0px;height:155.5px;background:#fff;border:1px solid #e3e3e3;border-radius:16px;box-shadow:0 4px 14px rgba(0,0,0,0.10)"></div>
<div class="a" style="left:1096px;top:718px;width:230px;height:65px;background:#4f44e0;border-radius:10px"></div>
<div class="t" style="left:1109px;top:741.12px;font-size:21.4px;color:#fff;font-weight:normal;-webkit-text-stroke:0.5px #fff">Dynamic Segments</div>
<div class="t" style="left:1109px;top:804.94px;font-size:21.2px;color:#222;font-weight:normal;-webkit-text-stroke:0.5px #222">Manual Segments</div>
<div class="a" style="left:1339px;top:718.3px;width:410px;height:94.4px;background:#2a2a2e;border-radius:8px;box-shadow:0 3px 10px rgba(0,0,0,0.12)"></div>
<svg style="left:1326px;top:737px" width="14" height="26" viewBox="0 0 14 26"><path d="M14,0.5 L1.5,12.2 Q0.8,12.8 1.5,13.5 L14,25.5 Z" fill="#2a2a2e"/></svg>
<div class="t" style="left:1544px;transform:translateX(-50%);top:733.0px;font-size:19.2px;color:#fff;font-weight:normal;-webkit-text-stroke:0.4px #fff">Automatically select up to 50 segments to</div>
<div class="t" style="left:1544px;transform:translateX(-50%);top:754.8px;font-size:19.2px;color:#fff;font-weight:normal;-webkit-text-stroke:0.4px #fff">show in the chart, based on the current</div>
<div class="t" style="left:1544px;transform:translateX(-50%);top:777.5px;font-size:19.2px;color:#fff;font-weight:normal;-webkit-text-stroke:0.4px #fff">sort.</div>
<svg style="left:1258px;top:766px;filter:drop-shadow(0 1.5px 1.5px rgba(0,0,0,0.3))" width="30" height="42" viewBox="0 0 30 42"><path d="M4.3,5.0 L4.3,32.8 L10.5,27.2 L14.9,38.2 L20.0,36.1 L15.6,25.6 L23.8,25.4 Z" fill="#000" stroke="#fff" stroke-width="2.2" stroke-linejoin="round"/></svg>
</body></html>
